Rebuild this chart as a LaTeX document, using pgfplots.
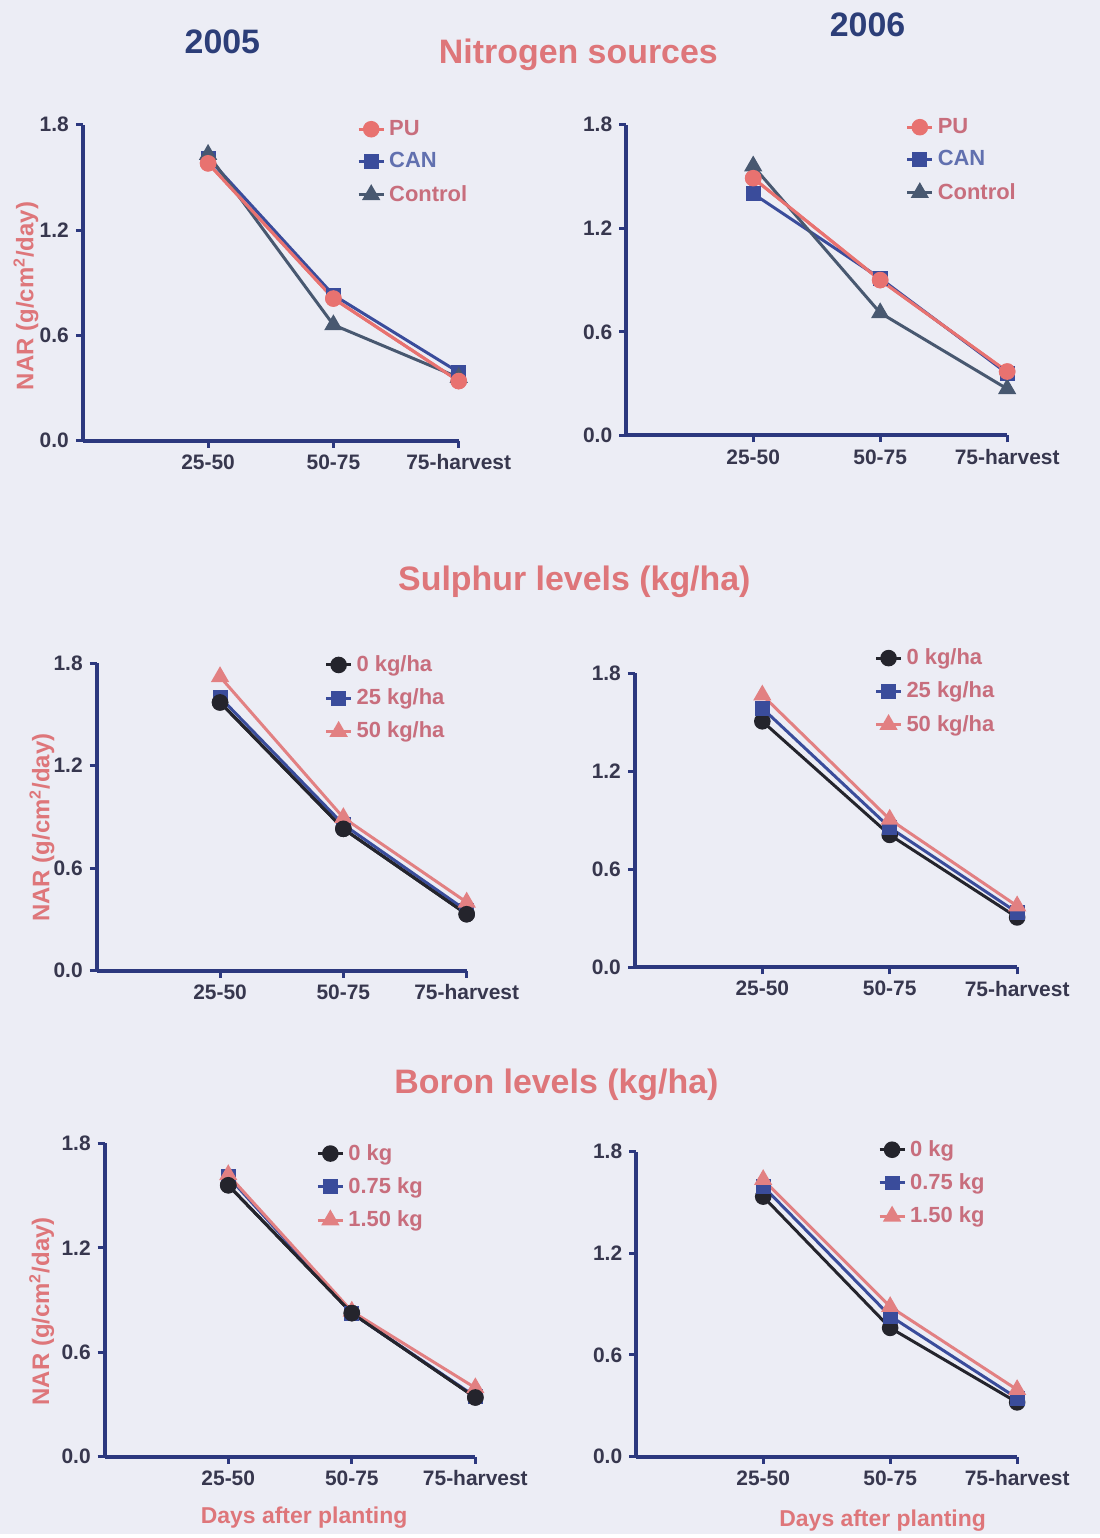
\documentclass[border=0pt]{standalone}
\usepackage{pgfplots}
\pgfplotsset{compat=1.18}
\usepackage{fontspec}
\setmainfont{Liberation Sans}
\definecolor{bg}{RGB}{236,237,245}
\definecolor{axblue}{RGB}{44,56,126}
\definecolor{tickgray}{RGB}{55,55,78}
\definecolor{titlepink}{RGB}{222,118,122}
\definecolor{yearblue}{RGB}{44,62,120}
\definecolor{legpink}{RGB}{200,110,125}
\definecolor{salmon}{RGB}{232,114,112}
\definecolor{canblue}{RGB}{58,76,155}
\definecolor{ctrl}{RGB}{72,88,112}
\definecolor{blk}{RGB}{36,36,44}
\definecolor{pinktri}{RGB}{226,128,130}
\pgfplotsset{
  panel/.style={
    scale only axis, axis lines=left,
    axis line style={-, line width=2pt, draw=axblue},
    xmin=0, xmax=3, ymin=0, ymax=1.8,
    xtick={1,2,3}, xticklabels={25-50,50-75,75-harvest},
    ytick={0,0.6,1.2,1.8},
    yticklabel style={/pgf/number format/.cd, fixed, fixed zerofill, precision=1},
    /pgf/number format/assume math mode=true,
    tick align=outside, major tick length=3.5pt,
    tick style={line width=1.5pt, draw=axblue},
    ticklabel style={font=\bfseries\fontsize{10.5}{12}\selectfont, text=tickgray},
    clip=false,
    legend style={draw=none, fill=none, font=\bfseries\fontsize{11}{13}\selectfont,
      text=legpink, row sep=3.2pt, anchor=north west, inner sep=0pt,
      cells={anchor=west}},
    legend image code/.code={\draw[mark repeat=2, mark phase=2, #1] plot coordinates {(0cm,0cm) (0.22cm,0cm) (0.44cm,0cm)};},
    every axis plot/.append style={line width=1.5pt},
    ylabel style={font=\bfseries\fontsize{12}{14}\selectfont, text=titlepink, anchor=center},
    xlabel style={font=\bfseries\fontsize{11.5}{13}\selectfont, text=titlepink, anchor=center},
  },
  sPU/.style={color=salmon, mark=*, mark size=3.4pt, mark options={fill=salmon}},
  sCAN/.style={color=canblue, mark=square*, mark size=3pt, mark options={fill=canblue}},
  sCTRL/.style={color=ctrl, mark=triangle*, mark size=3.8pt, mark options={fill=ctrl}},
  sK/.style={color=blk, mark=*, mark size=3.4pt, mark options={fill=blk}},
  sB/.style={color=canblue, mark=square*, mark size=3pt, mark options={fill=canblue}},
  sP/.style={color=pinktri, mark=triangle*, mark size=3.8pt, mark options={fill=pinktri}},
}
\begin{document}
\begin{tikzpicture}
\fill[bg] (0,0) rectangle (551.5pt,769pt);
% titles
\node[font=\bfseries\fontsize{17}{20}\selectfont, text=yearblue] at (111.5pt,748pt) {2005};
\node[font=\bfseries\fontsize{17}{20}\selectfont, text=yearblue] at (435pt,756.5pt) {2006};
\node[font=\bfseries\fontsize{17}{20}\selectfont, text=titlepink] at (290pt,741.5pt) {Nitrogen sources};
\node[font=\bfseries\fontsize{17}{20}\selectfont, text=titlepink] at (288pt,477.5pt) {Sulphur levels (kg/ha)};
\node[font=\bfseries\fontsize{17}{20}\selectfont, text=titlepink] at (279pt,225pt) {Boron levels (kg/ha)};

% Panel 1: Nitrogen 2005
\begin{axis}[panel, at={(41.5pt,548pt)}, anchor=south west, width=188.5pt, height=158.5pt,
  ylabel={NAR (g/cm$^{\mathbf{2}}$/day)}, ylabel style={at={(axis description cs:-0.151,0.458)}},
  legend style={at={(rel axis cs:0.729,1.028)}}]
\addplot[sPU] coordinates {(1,1.58) (2,0.81) (3,0.34)};
\addlegendentry{PU}
\addplot[sCAN] coordinates {(1,1.61) (2,0.83) (3,0.39)};
\addlegendentry{\textcolor{canblue!80!white}{CAN}}
\addplot[sCTRL] coordinates {(1,1.63) (2,0.66) (3,0.36)};
\addlegendentry{Control}
\addplot[sPU] coordinates {(1,1.58) (2,0.81) (3,0.34)};
\end{axis}

% Panel 2: Nitrogen 2006
\begin{axis}[panel, at={(314pt,550.65pt)}, anchor=south west, width=191pt, height=155.85pt,
  legend style={at={(rel axis cs:0.733,1.035)}}]
\addplot[sPU] coordinates {(1,1.49) (2,0.90) (3,0.37)};
\addlegendentry{PU}
\addplot[sCAN] coordinates {(1,1.40) (2,0.91) (3,0.36)};
\addlegendentry{\textcolor{canblue!80!white}{CAN}}
\addplot[sCTRL] coordinates {(1,1.56) (2,0.71) (3,0.27)};
\addlegendentry{Control}
\addplot[sPU] coordinates {(1,1.49) (2,0.90) (3,0.37)};
\end{axis}

% Panel 3: Sulphur 2005
\begin{axis}[panel, at={(48.5pt,282.35pt)}, anchor=south west, width=185.5pt, height=154.15pt,
  ylabel={NAR (g/cm$^{\mathbf{2}}$/day)}, ylabel style={at={(axis description cs:-0.148,0.465)}},
  legend style={at={(rel axis cs:0.615,1.039)}}]
\addplot[sK] coordinates {(1,1.57) (2,0.83) (3,0.33)};
\addlegendentry{0 kg/ha}
\addplot[sB] coordinates {(1,1.60) (2,0.855) (3,0.35)};
\addlegendentry{25 kg/ha}
\addplot[sP] coordinates {(1,1.72) (2,0.895) (3,0.40)};
\addlegendentry{50 kg/ha}
\addplot[sK] coordinates {(1,1.57) (2,0.83) (3,0.33)};
\end{axis}

% Panel 4: Sulphur 2006
\begin{axis}[panel, at={(318.35pt,284pt)}, anchor=south west, width=191.65pt, height=147.5pt,
  legend style={at={(rel axis cs:0.626,1.098)}}]
\addplot[sK] coordinates {(1,1.505) (2,0.81) (3,0.305)};
\addlegendentry{0 kg/ha}
\addplot[sB] coordinates {(1,1.585) (2,0.855) (3,0.335)};
\addlegendentry{25 kg/ha}
\addplot[sP] coordinates {(1,1.665) (2,0.905) (3,0.375)};
\addlegendentry{50 kg/ha}
\end{axis}

% Panel 5: Boron 2005
\begin{axis}[panel, at={(52.5pt,38.65pt)}, anchor=south west, width=185.85pt, height=157pt,
  ylabel={NAR (g/cm$^{\mathbf{2}}$/day)}, ylabel style={at={(axis description cs:-0.17,0.464)}},
  xlabel={Days after planting}, xlabel style={at={(axis description cs:0.538,-0.195)}},
  legend style={at={(rel axis cs:0.57,1.012)}}]
\addplot[sK] coordinates {(1,1.56) (2,0.825) (3,0.34)};
\addlegendentry{0 kg}
\addplot[sB] coordinates {(1,1.61) (2,0.825) (3,0.345)};
\addlegendentry{0.75 kg}
\addplot[sP] coordinates {(1,1.62) (2,0.835) (3,0.395)};
\addlegendentry{1.50 kg}
\addplot[sK] coordinates {(1,1.56) (2,0.825) (3,0.34)};
\end{axis}

% Panel 6: Boron 2006
\begin{axis}[panel, at={(319pt,38.65pt)}, anchor=south west, width=191pt, height=152.85pt,
  xlabel={Days after planting}, xlabel style={at={(axis description cs:0.647,-0.21)}},
  legend style={at={(rel axis cs:0.634,1.052)}}]
\addplot[sK] coordinates {(1,1.535) (2,0.76) (3,0.32)};
\addlegendentry{0 kg}
\addplot[sB] coordinates {(1,1.595) (2,0.83) (3,0.345)};
\addlegendentry{0.75 kg}
\addplot[sP] coordinates {(1,1.635) (2,0.885) (3,0.395)};
\addlegendentry{1.50 kg}
\end{axis}
\end{tikzpicture}
\end{document}
